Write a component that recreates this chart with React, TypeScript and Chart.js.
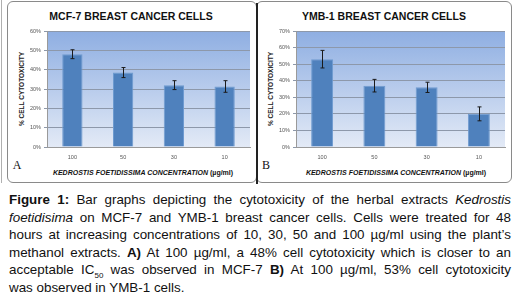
import React, { useEffect, useRef } from "react";
import { Chart, registerables } from "chart.js";

Chart.register(...registerables);

const categories = ["100", "50", "30", "10"];
const mcf7Values = [48, 38.5, 32, 31.3];
const mcf7Errors = [2.3, 2.6, 2.3, 3.0];
const ymb1Values = [53, 37, 36, 20];
const ymb1Errors = [5.3, 3.8, 3.1, 4.2];
const mcf7Max = 60;
const ymb1Max = 70;

const NARROW = '"Liberation Sans Narrow", "Liberation Sans", Arial, sans-serif';

const bgPlugin = {
  id: "plotBg",
  beforeDraw(chart: any) {
    const { ctx, chartArea } = chart;
    if (!chartArea) return;
    const g = ctx.createLinearGradient(0, chartArea.top, 0, chartArea.bottom);
    g.addColorStop(0, "#8eaee2");
    g.addColorStop(1, "#e3eaf6");
    ctx.save();
    ctx.fillStyle = g;
    ctx.fillRect(chartArea.left, chartArea.top, chartArea.right - chartArea.left, chartArea.bottom - chartArea.top);
    ctx.restore();
  },
};

const errPlugin = {
  id: "errBars",
  afterDatasetsDraw(chart: any) {
    const errs = chart.options.plugins.errBars?.errors as number[];
    if (!errs) return;
    const { ctx } = chart;
    const meta = chart.getDatasetMeta(0);
    const ys = chart.scales.y;
    const vals = chart.data.datasets[0].data as number[];
    ctx.save();
    ctx.strokeStyle = "#1a1a1a";
    ctx.lineWidth = 1;
    meta.data.forEach((bar: any, i: number) => {
      const x = Math.round(bar.x) + 0.5;
      const top = ys.getPixelForValue(vals[i] + errs[i]);
      const bot = ys.getPixelForValue(vals[i] - errs[i]);
      ctx.beginPath();
      ctx.moveTo(x, top);
      ctx.lineTo(x, bot);
      ctx.moveTo(x - 2, top);
      ctx.lineTo(x + 2, top);
      ctx.moveTo(x - 2, bot);
      ctx.lineTo(x + 2, bot);
      ctx.stroke();
    });
    ctx.restore();
  },
};

function BarChart(props: {
  values: number[];
  errors: number[];
  max: number;
  width: number;
  height: number;
  yWidth: number;
  padRight: number;
  catPct: number;
}) {
  const ref = useRef<HTMLCanvasElement>(null);
  useEffect(() => {
    const chart = new Chart(ref.current as HTMLCanvasElement, {
      type: "bar",
      data: {
        labels: categories,
        datasets: [
          {
            data: props.values,
            backgroundColor: "#4f81bd",
            borderColor: "#6f9bd0",
            borderWidth: 1,
            barPercentage: 1,
            categoryPercentage: props.catPct,
          },
        ],
      },
      options: {
        animation: false,
        responsive: false,
        maintainAspectRatio: false,
        layout: { padding: { left: 0, right: props.padRight, top: 29, bottom: 0 } },
        plugins: {
          legend: { display: false },
          tooltip: { enabled: false },
          title: { display: false },
          errBars: { errors: props.errors },
        } as any,
        scales: {
          x: {
            grid: { display: false, drawTicks: false },
            border: { display: true, color: "#9a9a9a" },
            ticks: { font: { size: 5.5, family: NARROW }, color: "#555", padding: 7 },
            afterFit: (s: any) => {
              s.height = 36;
            },
          },
          y: {
            min: 0,
            max: props.max,
            ticks: {
              stepSize: 10,
              callback: (v: any) => v + "%",
              font: { size: 5.5, family: NARROW },
              color: "#555",
              padding: 3,
            },
            grid: { color: "#8d98aa", tickLength: 3, drawTicks: true },
            border: { color: "#9a9a9a" },
            afterFit: (s: any) => {
              s.width = props.yWidth;
            },
          },
        },
      },
      plugins: [bgPlugin, errPlugin],
    });
    return () => chart.destroy();
  }, []);
  return <canvas ref={ref} width={props.width} height={props.height} style={{ width: props.width, height: props.height, display: "block" }} />;
}

const abs = (x: number, y: number, extra: React.CSSProperties = {}): React.CSSProperties => ({
  position: "absolute",
  left: x,
  top: y,
  transform: "translate(-50%, -50%)",
  whiteSpace: "nowrap",
  ...extra,
});

function Panel(props: {
  left: number;
  width: number;
  title: string;
  letter: string;
  cx: number;
  children: React.ReactNode;
  yTitleX: number;
  letterX: number;
}) {
  return (
    <>
      <div
        style={{
          position: "absolute",
          left: props.left,
          top: 1,
          width: props.width,
          height: 182,
          border: "1px solid #8a8a8a",
          borderRadius: 6,
          boxSizing: "border-box",
        }}
      />
      <div style={abs(props.cx, 16, { font: `bold 10.5px ${NARROW}`, color: "#111" })}>{props.title}</div>
      <div
        style={abs(props.yTitleX, 89, {
          font: `bold 6.5px ${NARROW}`,
          color: "#222",
          transform: "translate(-50%, -50%) rotate(-90deg)",
        })}
      >
        % CELL CYTOTOXICITY
      </div>
      <div style={abs(props.cx + 12, 172, { font: `bold 7px ${NARROW}`, color: "#111" })}>
        <i>KEDROSTIS FOETIDISSIMA CONCENTRATION</i> (µg/ml)
      </div>
      <div style={abs(props.letterX, 165, { font: '12px "Liberation Serif", "Times New Roman", serif', color: "#111" })}>
        {props.letter}
      </div>
      {props.children}
    </>
  );
}

const captionLines: React.ReactNode[] = [
  <>
    <b>Figure 1:</b> Bar graphs depicting the cytotoxicity of the herbal extracts <i>Kedrostis</i>
  </>,
  <>
    <i>foetidisima</i> on MCF-7 and YMB-1 breast cancer cells. Cells were treated for 48
  </>,
  <>hours at increasing concentrations of 10, 30, 50 and 100 µg/ml using the plant’s</>,
  <>
    methanol extracts. <b>A)</b> At 100 µg/ml, a 48% cell cytotoxicity which is closer to an
  </>,
  <>
    acceptable IC
    <span style={{ fontSize: 8, position: "relative", top: 4 }}>50</span> was observed in MCF-7 <b>B)</b> At 100
    µg/ml, 53% cell cytotoxicity
  </>,
  <>was observed in YMB-1 cells.</>,
];

export default function App() {
  return (
    <div style={{ position: "absolute", left: 0, top: 0, width: 514, height: 293, background: "#fff", overflow: "hidden" }}>
      <div style={{ position: "absolute", left: 1, top: 0, width: 1, height: 183, background: "#b0b0b0" }} />
      <Panel left={7} width={250} title="MCF-7 BREAST CANCER CELLS" letter="A" cx={131} yTitleX={21} letterX={17}>
        <div style={{ position: "absolute", left: 8, top: 2 }}>
          <BarChart values={mcf7Values} errors={mcf7Errors} max={mcf7Max} width={248} height={181} yWidth={39} padRight={6} catPct={0.4} />
        </div>
      </Panel>
      <Panel left={256} width={256} title="YMB-1 BREAST CANCER CELLS" letter="B" cx={384} yTitleX={270} letterX={266}>
        <div style={{ position: "absolute", left: 258, top: 2 }}>
          <BarChart values={ymb1Values} errors={ymb1Errors} max={ymb1Max} width={254} height={181} yWidth={38} padRight={7} catPct={0.42} />
        </div>
      </Panel>
      <div style={{ position: "absolute", left: 256, top: 3, width: 2, height: 181, background: "#222" }} />
      {captionLines.map((line, i) => (
        <div
          key={i}
          style={{
            position: "absolute",
            left: 9,
            top: 201 + i * 17.5 - 9,
            width: 502,
            height: 18,
            lineHeight: "18px",
            font: '13.4px "Liberation Sans", Arial, sans-serif',
            color: "#111",
            whiteSpace: "nowrap",
            textAlign: "justify",
            textAlignLast: i < captionLines.length - 1 ? "justify" : "left",
          }}
        >
          {line}
        </div>
      ))}
    </div>
  );
}
